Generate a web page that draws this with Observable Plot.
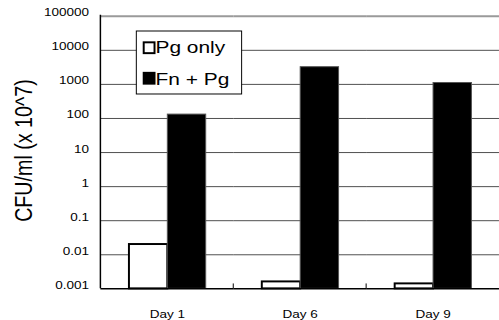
<!DOCTYPE html>
<html><head><meta charset="utf-8">
<script src="https://cdn.jsdelivr.net/npm/d3@7"></script>
<script src="https://cdn.jsdelivr.net/npm/@observablehq/plot@0.6"></script>
<style>html,body{margin:0;padding:0;overflow:hidden;background:#fff;width:499px;height:320px}#chart{width:499px;height:320px;overflow:hidden}</style>
</head><body><div id="chart"></div>
<script>
const days = ["Day 1", "Day 6", "Day 9"];
const series = ["Pg only", "Fn + Pg"];
const pgOnly = [0.02, 0.0016, 0.0014];
const fnPg = [130, 3200, 1100];
const yTicks = [0.001, 0.01, 0.1, 1, 10, 100, 1000, 10000, 100000];
const yTickLabels = ["0.001", "0.01", "0.1", "1", "10", "100", "1000", "10000", "100000"];
const yMin = 0.001, yMax = 100000;
const yLabel = "CFU/ml (x 10^7)";

const data = days.flatMap((d, i) => [
  {day: d, series: series[0], value: pgOnly[i]},
  {day: d, series: series[1], value: fnPg[i]}
]);

const SX = 1.25;
const plot = Plot.plot({
  width: 507, height: 320,
  marginLeft: 102, marginRight: 0, marginTop: 16, marginBottom: 27,
  style: {fontFamily: "'Liberation Sans', Arial, sans-serif", fontSize: "11px", background: "#fff", color: "#000", overflow: "visible"},
  fx: {domain: days, padding: 0, label: null, tickSize: 0, tickPadding: 16},
  x: {domain: series, paddingInner: 0, paddingOuter: 0.73, axis: null},
  y: {type: "log", domain: [yMin, yMax], label: null, ticks: yTicks,
      tickFormat: d => yTickLabels[yTicks.indexOf(d)], tickSize: 0, tickPadding: 12},
  marks: [
    Plot.ruleY(yTicks.slice(1, -1), {stroke: "#4d4d4d"}),
    Plot.ruleY([yMax], {stroke: "#9a9a9a", strokeWidth: 2}),
    Plot.barY(data.filter(d => d.series === series[0]), {fx: "day", x: "series", y1: yMin, y2: "value", fill: "#fff", stroke: "#000", strokeWidth: 2}),
    Plot.barY(data.filter(d => d.series === series[1]), {fx: "day", x: "series", y1: yMin, y2: "value", fill: "#000", stroke: "#555", strokeWidth: 1}),
    Plot.ruleY([yMin], {stroke: "#000", strokeWidth: 1.5})
  ]
});
document.getElementById("chart").appendChild(plot);

const svg = d3.select(plot);
// horizontal stretch of texts (as in reference)
svg.selectAll("text").each(function () {
  const t = this.getAttribute("transform") || "";
  const x = this.getAttribute("x"), y = this.getAttribute("y");
  let tr = t;
  if (x !== null || y !== null) {
    tr = t + ` translate(${+x || 0},${+y || 0})`;
    this.removeAttribute("x"); this.removeAttribute("y");
  }
  this.setAttribute("transform", tr + ` scale(${SX},1)`);
});

const fx = plot.scale("fx"), ys = plot.scale("y");
const x0 = fx.apply(days[0]);
const yb = ys.apply(yMin), yt = ys.apply(yMax);
// report where the fx labels ended up, then move them to sit below the axis like the reference
svg.selectAll("text").filter(function () { return days.includes(this.textContent); }).each(function () {
  const bb = this.getBBox();
  const ctm = this.getCTM();
  const top = ctm.f + bb.y * ctm.d;
  const shift = (yb + 16) - top;
  const t = this.getAttribute("transform");
  this.setAttribute("transform", `translate(0,${shift}) ` + t);
});
// left axis line
svg.append("line").attr("x1", x0).attr("x2", x0).attr("y1", yt - 1).attr("y2", yb)
  .attr("stroke", "#000").attr("stroke-width", 1.5);
// category separator ticks
days.slice(1).forEach(d => {
  const xx = fx.apply(d);
  svg.append("line").attr("x1", xx).attr("x2", xx).attr("y1", yb).attr("y2", yb - 5)
    .attr("stroke", "#000").attr("stroke-width", 1);
});
// y label
svg.append("text").text(yLabel)
  .attr("transform", `translate(33,153) scale(${SX},1) rotate(-90)`)
  .attr("text-anchor", "middle")
  .attr("font-family", "'Liberation Sans', Arial, sans-serif")
  .attr("font-size", 20).attr("fill", "#000");
// legend
const lg = svg.append("g").attr("font-family", "'Liberation Sans', Arial, sans-serif").attr("font-size", 17).attr("text-anchor", "start");
lg.append("rect").attr("x", 138.5).attr("y", 31.5).attr("width", 107).attr("height", 64)
  .attr("fill", "#fff").attr("stroke", "#000");
lg.append("rect").attr("x", 146).attr("y", 43).attr("width", 11).attr("height", 11)
  .attr("fill", "#fff").attr("stroke", "#000").attr("stroke-width", 2);
lg.append("text").text(series[0]).attr("text-anchor", "start").attr("transform", `translate(158,54) scale(${SX},1)`).attr("fill", "#000");
lg.append("rect").attr("x", 145).attr("y", 73).attr("width", 13).attr("height", 13).attr("fill", "#000");
lg.append("text").text(series[1]).attr("text-anchor", "start").attr("transform", `translate(158,86) scale(${SX},1)`).attr("fill", "#000");
</script>
</body></html>
